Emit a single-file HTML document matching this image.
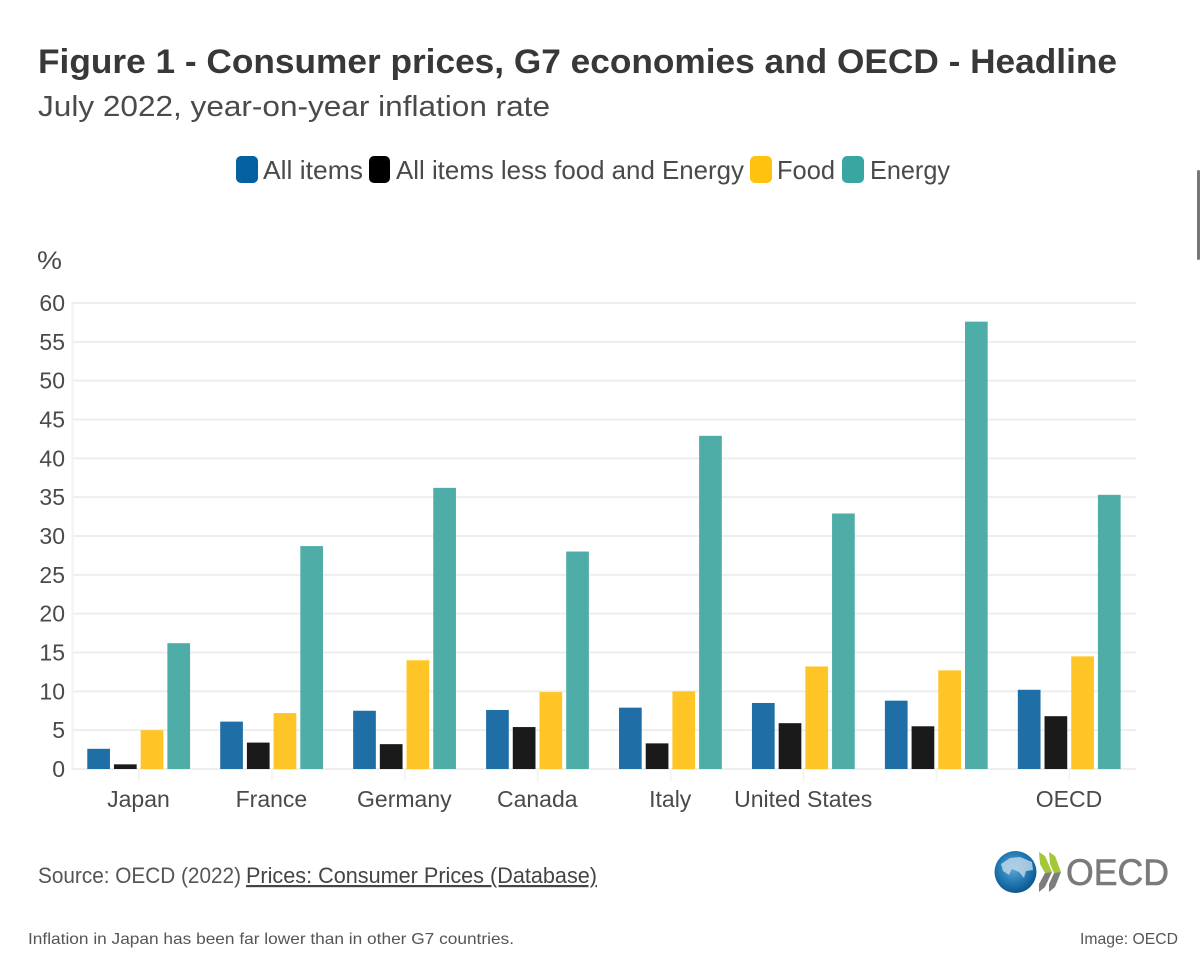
<!DOCTYPE html>
<html lang="en">
<head>
<meta charset="utf-8">
<title>Figure 1 - Consumer prices, G7 economies and OECD - Headline</title>
<style>
html,body{margin:0;padding:0;background:#fff;width:1200px;height:960px;overflow:hidden}
svg{display:block}
text{font-family:"Liberation Sans",sans-serif}
</style>
</head>
<body>
<svg id="chart" xmlns="http://www.w3.org/2000/svg" width="1200" height="960" viewBox="0 0 1200 960">
  <defs>
    <radialGradient id="globeFill" cx="45%" cy="40%" r="65%">
      <stop offset="0%" stop-color="#5fa9d6"/>
      <stop offset="60%" stop-color="#1f75b0"/>
      <stop offset="100%" stop-color="#0b4f85"/>
    </radialGradient>
  </defs>
  <rect x="0" y="0" width="1200" height="960" fill="#ffffff"/>
  <rect x="1197" y="170" width="3" height="90" rx="1.5" fill="#777777"/>

  <text x="38" y="73" font-size="34" font-weight="700" fill="#383838" textLength="1079" lengthAdjust="spacingAndGlyphs">Figure 1 - Consumer prices, G7 economies and OECD - Headline</text>
  <text x="38" y="116" font-size="29" fill="#4a4a4a" textLength="512" lengthAdjust="spacingAndGlyphs">July 2022, year-on-year inflation rate</text>

  <g font-size="26" fill="#4a4a4a">
    <g>
      <rect x="236" y="156" width="22" height="27" rx="5" fill="#05619f"/>
      <text x="263" y="179" textLength="100" lengthAdjust="spacingAndGlyphs">All items</text>
    </g>
    <g>
      <rect x="369" y="156" width="21" height="27" rx="5" fill="#000000"/>
      <text x="396" y="179" textLength="348" lengthAdjust="spacingAndGlyphs">All items less food and Energy</text>
    </g>
    <g>
      <rect x="750" y="156" width="22" height="27" rx="5" fill="#ffc20e"/>
      <text x="777" y="179" textLength="58" lengthAdjust="spacingAndGlyphs">Food</text>
    </g>
    <g>
      <rect x="842" y="156" width="22" height="27" rx="5" fill="#3aa6a2"/>
      <text x="870" y="179" textLength="80" lengthAdjust="spacingAndGlyphs">Energy</text>
    </g>
  </g>

  <text x="37" y="269" font-size="25" fill="#4a4a4a" textLength="25" lengthAdjust="spacingAndGlyphs">%</text>

  <g id="grid"></g>
  <g id="yTicks"></g>
  <g id="xTicks"></g>
  <g id="bars"></g>

  <text x="38" y="883" font-size="22" fill="#555555" textLength="203" lengthAdjust="spacingAndGlyphs">Source: OECD (2022)</text>
  <text x="246" y="883" font-size="22" fill="#444444" text-decoration="underline" textLength="351" lengthAdjust="spacingAndGlyphs">Prices: Consumer Prices (Database)</text>

  <g>
    <circle cx="1015.5" cy="872" r="21" fill="url(#globeFill)"/>
    <path d="M1001 864 L1010 858 L1020 857 L1032 862 L1033 870 L1026 871 L1024 878 L1019 872 L1012 869 L1009 875 L1003 871 Z" fill="#c3d9e8" opacity="0.8"/>
    <polygon points="1039,852 1045,856 1052,872 1045,873 1040,864" fill="#a4c639"/>
    <polygon points="1045,873 1052,872 1045,887 1039,892 1039,884" fill="#7d7d7d"/>
    <polygon points="1049,852 1055,856 1061,872 1054,873 1050,864" fill="#a4c639"/>
    <polygon points="1054,873 1061,872 1055,887 1049,892 1049,884" fill="#7d7d7d"/>
    <text x="1066" y="885" font-size="37" fill="#7a7a7a" stroke="#7a7a7a" stroke-width="0.6" textLength="103" lengthAdjust="spacingAndGlyphs">OECD</text>
  </g>

  <text x="28" y="944" font-size="16" fill="#555555" textLength="486" lengthAdjust="spacingAndGlyphs">Inflation in Japan has been far lower than in other G7 countries.</text>
  <text x="1080" y="944" font-size="16" fill="#555555" textLength="98" lengthAdjust="spacingAndGlyphs">Image: OECD</text>
</svg>
<script>
const categories = ['Japan', 'France', 'Germany', 'Canada', 'Italy', 'United States', '', 'OECD'];
const allItems = [2.6, 6.1, 7.5, 7.6, 7.9, 8.5, 8.8, 10.2];
const coreItems = [0.6, 3.4, 3.2, 5.4, 3.3, 5.9, 5.5, 6.8];
const foodItems = [5.0, 7.2, 14.0, 9.9, 10.0, 13.2, 12.7, 14.5];
const energyItems = [16.2, 28.7, 36.2, 28.0, 42.9, 32.9, 57.6, 35.3];
const yTickValues = [0, 5, 10, 15, 20, 25, 30, 35, 40, 45, 50, 55, 60];

const NS = 'http://www.w3.org/2000/svg';
const plot = { left: 72.5, right: 1136, top: 303, bottom: 769 };
const yMax = 60;
const barWidth = 22.7;
const barStep = 26.7;
const seriesList = [
  { key: 'all-items', values: allItems, fill: '#1f6fa6' },
  { key: 'core', values: coreItems, fill: '#1a1a1a' },
  { key: 'food', values: foodItems, fill: '#ffc425' },
  { key: 'energy', values: energyItems, fill: '#4fada8' }
];

function yScale(v) {
  return plot.bottom - (v / yMax) * (plot.bottom - plot.top);
}
function bandCenter(i) {
  const band = (plot.right - plot.left) / categories.length;
  return plot.left + band * (i + 0.5);
}
function make(tag, attrs) {
  const el = document.createElementNS(NS, tag);
  Object.keys(attrs).forEach(function (k) { el.setAttribute(k, attrs[k]); });
  return el;
}

const gridGroup = document.getElementById('grid');
const yTickGroup = document.getElementById('yTicks');
const xTickGroup = document.getElementById('xTicks');
const barGroup = document.getElementById('bars');

yTickValues.forEach(function (v) {
  const y = yScale(v);
  const line = make('line', { x1: plot.left - 1, x2: plot.right, y1: y, y2: y, stroke: '#eeeeee', 'stroke-width': 2 });
  
  
  gridGroup.appendChild(line);

  const label = make('text', { x: 65, y: y + 8, 'text-anchor': 'end', 'font-size': 23, fill: '#4a4a4a' });
  label.textContent = String(v);
  
  
  yTickGroup.appendChild(label);
});

const yAxisLine = make('line', { x1: plot.left, x2: plot.left, y1: plot.top, y2: plot.bottom, stroke: '#f2f2f2', 'stroke-width': 2 });


gridGroup.appendChild(yAxisLine);

categories.forEach(function (name, i) {
  const cx = bandCenter(i);
  const tick = make('line', { x1: cx, x2: cx, y1: plot.bottom, y2: plot.bottom + 12, stroke: '#f4f4f4', 'stroke-width': 2 });
  
  
  xTickGroup.appendChild(tick);

  const label = make('text', { x: cx - 0.5, y: 807, 'text-anchor': 'middle', 'font-size': 23, fill: '#4a4a4a' });
  label.textContent = name;
  
  
  xTickGroup.appendChild(label);

  seriesList.forEach(function (series, s) {
    const top = yScale(series.values[i]);
    const x = cx + (s - 2) * barStep + (barStep - barWidth) / 2 - 0.3;
    const bar = make('rect', { x: x, y: top, width: barWidth, height: plot.bottom - top, fill: series.fill });
    
    
    barGroup.appendChild(bar);
  });
});
</script>
</body>
</html>
